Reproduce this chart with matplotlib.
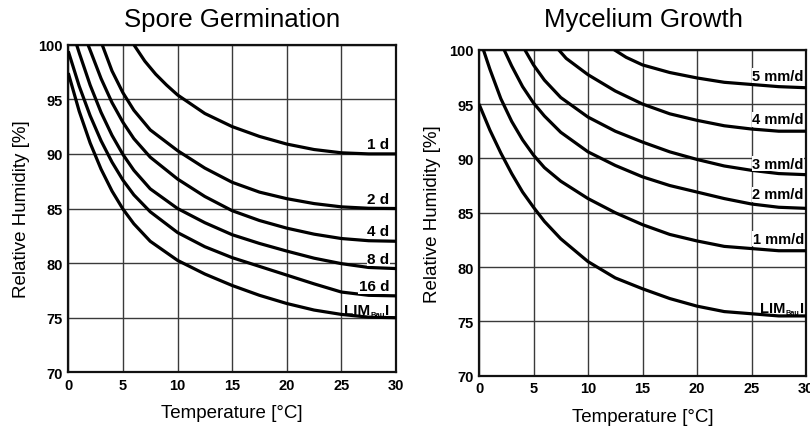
import matplotlib
matplotlib.use("Agg")
import matplotlib.pyplot as plt

plt.rcParams['font.family'] = ['Liberation Sans', 'DejaVu Sans']

# ---------------- Spore Germination (left) ----------------
sg_1d_t = [6, 7, 8, 9, 10, 12.5, 15, 17.5, 20, 22.5, 25, 27.5, 30]
sg_1d_rh = [100, 98.5, 97.3, 96.3, 95.4, 93.7, 92.5, 91.6, 90.9, 90.4, 90.1, 90.0, 90.0]

sg_2d_t = [3.1, 4, 5, 6, 7.5, 10, 12.5, 15, 17.5, 20, 22.5, 25, 27.5, 30]
sg_2d_rh = [100, 97.6, 95.6, 94.0, 92.2, 90.3, 88.7, 87.4, 86.5, 85.9, 85.45, 85.15, 85.02, 85.0]

sg_4d_t = [1.8, 2, 3, 4, 5, 6, 7.5, 10, 12.5, 15, 17.5, 20, 22.5, 25, 27.5, 30]
sg_4d_rh = [100, 99.5, 96.9, 94.7, 92.9, 91.4, 89.7, 87.7, 86.1, 84.8, 83.9, 83.2, 82.65, 82.25, 82.05, 82.0]

sg_8d_t = [0.76, 1, 2, 3, 4, 5, 6, 7.5, 10, 12.5, 15, 17.5, 20, 22.5, 25, 27.5, 30]
sg_8d_rh = [100, 99.25, 96.3, 93.8, 91.7, 89.95, 88.5, 86.8, 85.0, 83.7, 82.6, 81.8, 81.1, 80.45, 79.95, 79.6, 79.5]

sg_16d_t = [0, 1, 2, 3, 4, 5, 6, 7.5, 10, 12.5, 15, 17.5, 20, 22.5, 25, 27.5, 30]
sg_16d_rh = [99.4, 96.2, 93.5, 91.2, 89.25, 87.6, 86.25, 84.7, 82.8, 81.5, 80.5, 79.7, 78.9, 78.1, 77.35, 77.05, 77.0]

sg_lim_t = [0, 1, 2, 3, 4, 5, 6, 7.5, 10, 12.5, 15, 17.5, 20, 22.5, 25, 27.5, 30]
sg_lim_rh = [97.4, 93.9, 91.0, 88.6, 86.6, 84.95, 83.6, 82.0, 80.25, 79.0, 77.95, 77.05, 76.3, 75.7, 75.3, 75.05, 75.0]

sg_labels = ["1 d", "2 d", "4 d", "8 d", "16 d", "LIM"]
sg_label_y = [90.9, 85.9, 82.9, 80.4, 77.9, 75.35]

# ---------------- Mycelium Growth (right) ----------------
mg_5_t = [12.4, 13.5, 15, 17.5, 20, 22.5, 25, 27.5, 30]
mg_5_rh = [100, 99.3, 98.6, 97.9, 97.4, 97.0, 96.8, 96.6, 96.5]

mg_4_t = [7.3, 8, 10, 12.5, 15, 17.5, 20, 22.5, 25, 27.5, 30]
mg_4_rh = [100, 99.2, 97.7, 96.2, 95.0, 94.1, 93.5, 93.0, 92.7, 92.5, 92.5]

mg_3_t = [4.2, 5, 6, 7.5, 10, 12.5, 15, 17.5, 20, 22.5, 25, 27.5, 30]
mg_3_rh = [100, 98.6, 97.2, 95.6, 93.8, 92.5, 91.5, 90.6, 89.9, 89.3, 88.9, 88.6, 88.5]

mg_2_t = [2.3, 3, 4, 5, 6, 7.5, 10, 12.5, 15, 17.5, 20, 22.5, 25, 27.5, 30]
mg_2_rh = [100, 98.5, 96.6, 95.1, 93.9, 92.4, 90.6, 89.35, 88.3, 87.5, 86.9, 86.3, 85.8, 85.5, 85.4]

mg_1_t = [0.4, 1, 2, 3, 4, 5, 6, 7.5, 10, 12.5, 15, 17.5, 20, 22.5, 25, 27.5, 30]
mg_1_rh = [100, 98.2, 95.5, 93.4, 91.7, 90.3, 89.15, 87.9, 86.3, 85.0, 83.9, 83.0, 82.4, 81.9, 81.7, 81.5, 81.5]

mg_lim_t = [0, 1, 2, 3, 4, 5, 6, 7.5, 10, 12.5, 15, 17.5, 20, 22.5, 25, 27.5, 30]
mg_lim_rh = [95.0, 92.6, 90.5, 88.6, 86.9, 85.5, 84.2, 82.6, 80.5, 79.0, 78.0, 77.1, 76.4, 75.9, 75.7, 75.5, 75.5]

mg_labels = ["5 mm/d", "4 mm/d", "3 mm/d", "2 mm/d", "1 mm/d", "LIM"]
mg_label_y = [97.6, 93.6, 89.5, 86.7, 82.6, 75.9]

x_ticks = [0, 5, 10, 15, 20, 25, 30]
y_ticks = [70, 75, 80, 85, 90, 95, 100]

titles = ["Spore Germination", "Mycelium Growth"]
xlabel = "Temperature [°C]"
ylabel = "Relative Humidity [%]"

W, H = 810, 431
fig = plt.figure(figsize=(W / 100, H / 100), dpi=100)
renderer = fig.canvas.get_renderer()

def px_axes(x0, x1, ytop, ybot):
    return fig.add_axes([x0 / W, (H - ybot) / H, (x1 - x0) / W, (ybot - ytop) / H])

ax1 = px_axes(68.3, 396, 45.7, 373.3)
ax2 = px_axes(479, 806, 50.7, 376.7)

left_series = [(sg_1d_t, sg_1d_rh), (sg_2d_t, sg_2d_rh), (sg_4d_t, sg_4d_rh),
               (sg_8d_t, sg_8d_rh), (sg_16d_t, sg_16d_rh), (sg_lim_t, sg_lim_rh)]
right_series = [(mg_5_t, mg_5_rh), (mg_4_t, mg_4_rh), (mg_3_t, mg_3_rh),
                (mg_2_t, mg_2_rh), (mg_1_t, mg_1_rh), (mg_lim_t, mg_lim_rh)]

panels = [
    (ax1, left_series, sg_labels, sg_label_y, 29.4, 11, 232),
    (ax2, right_series, mg_labels, mg_label_y, 29.8, 10.5, 643),
]

box = dict(facecolor='white', edgecolor='none', pad=0.4)

def lim_label(ax, x, y, fs):
    tI = ax.annotate("I", (x, y), xytext=(0, 0), textcoords='offset pixels',
                     ha='right', va='baseline', fontsize=fs, fontweight='bold', zorder=5)
    wI = tI.get_window_extent(renderer).width
    tB = ax.annotate("Bau", (x, y), xytext=(-wI - 0.5, -2), textcoords='offset pixels',
                     ha='right', va='baseline', fontsize=fs * 0.5, fontweight='bold', zorder=5)
    wB = tB.get_window_extent(renderer).width
    ax.annotate("LIM", (x, y), xytext=(-wI - wB - 1.0, 0), textcoords='offset pixels',
                ha='right', va='baseline', fontsize=fs, fontweight='bold', zorder=5)

for i, (ax, series, labels, label_y, lab_x, fs, tx) in enumerate(panels):
    ax.set_xlim(0, 30)
    ax.set_ylim(70, 100)
    ax.set_xticks(x_ticks)
    ax.set_yticks(y_ticks)
    ax.grid(True, color='#3a3a3a', linewidth=1.0)
    ax.set_axisbelow(True)
    for sp in ax.spines.values():
        sp.set_linewidth(1.6)
        sp.set_color('#111111')
    ax.tick_params(length=0, pad=4, labelsize=10.5)
    for lab in ax.get_xticklabels() + ax.get_yticklabels():
        lab.set_fontweight('bold')
    for t, rh in series:
        ax.plot(t, rh, color='black', linewidth=2.3, solid_joinstyle='round',
                solid_capstyle='butt', zorder=3)
    for lab, ly in zip(labels, label_y):
        if lab == "LIM":
            lim_label(ax, lab_x, ly, fs)
        else:
            ax.text(lab_x, ly, lab, ha='right', va='center', fontsize=fs,
                    fontweight='bold', zorder=4, bbox=box)
    fig.text(tx / W, 1 - 20 / H, titles[i], ha='center', va='center', fontsize=18.5)
    ax.set_xlabel(xlabel, fontsize=13.5, labelpad=9)
    ax.set_ylabel(ylabel, fontsize=13.5, labelpad=6)

fig.savefig("out.png", dpi=100, facecolor='white')
